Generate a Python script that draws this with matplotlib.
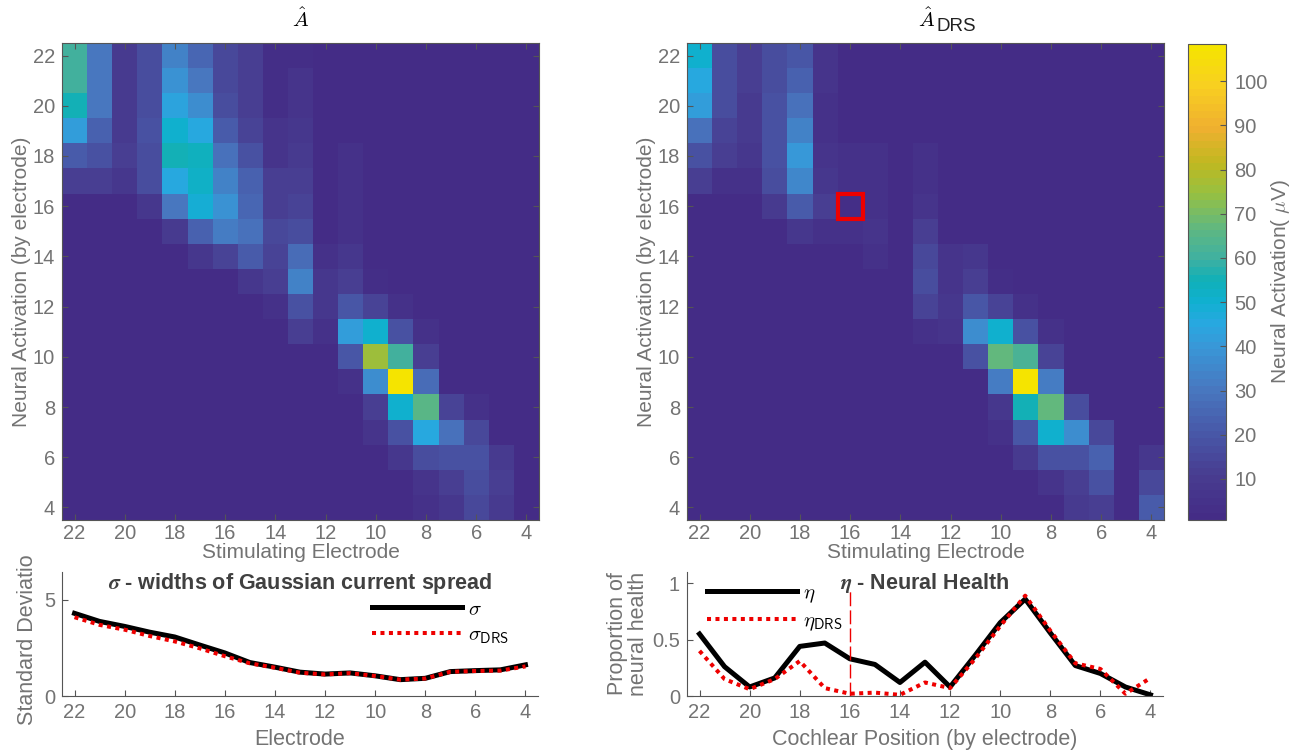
import numpy as np
import matplotlib.pyplot as plt
from matplotlib.colors import LinearSegmentedColormap, Normalize
from matplotlib.patches import Rectangle
from matplotlib.transforms import Bbox, TransformedBbox

plt.rcParams['font.family'] = ['Liberation Sans', 'DejaVu Sans']
plt.rcParams['mathtext.fontset'] = 'cm'

### Data ###
electrodes = [22, 21, 20, 19, 18, 17, 16, 15, 14, 13, 12, 11, 10, 9, 8, 7, 6, 5, 4]

# rows: activation electrode 22 (top) -> 4 (bottom), cols: stimulating electrode 22 -> 4
A_hat = [
    [60, 30, 10, 17, 33, 25, 15, 11, 4, 4, 1, 1, 1, 1, 1, 1, 1, 1, 1],
    [60, 30, 10, 16, 38, 30, 15, 11, 4, 7, 1, 1, 1, 1, 1, 1, 1, 1, 1],
    [55, 30, 10, 16, 43, 37, 16, 12, 4, 7, 1, 1, 1, 1, 1, 1, 1, 1, 1],
    [42, 23, 10, 18, 50, 45, 21, 13, 6, 8, 1, 1, 1, 1, 1, 1, 1, 1, 1],
    [22, 18, 11, 17, 55, 53, 29, 19, 6, 10, 1, 5, 1, 1, 1, 1, 1, 1, 1],
    [12, 12, 8, 16, 45, 52, 34, 23, 11, 12, 1, 5, 1, 1, 1, 1, 1, 1, 1],
    [1, 1, 1, 8, 30, 48, 38, 25, 11, 14, 1, 5, 1, 1, 1, 1, 1, 1, 1],
    [1, 1, 1, 1, 10, 23, 32, 29, 15, 16, 1, 5, 1, 1, 1, 1, 1, 1, 1],
    [1, 1, 1, 1, 1, 8, 13, 21, 14, 26, 5, 8, 1, 1, 1, 1, 1, 1, 1],
    [1, 1, 1, 1, 1, 1, 1, 8, 12, 34, 9, 12, 4, 1, 1, 1, 1, 1, 1],
    [1, 1, 1, 1, 1, 1, 1, 1, 5, 18, 8, 20, 14, 5, 1, 1, 1, 1, 1],
    [1, 1, 1, 1, 1, 1, 1, 1, 1, 12, 5, 42, 51, 18, 5, 1, 1, 1, 1],
    [1, 1, 1, 1, 1, 1, 1, 1, 1, 1, 1, 20, 75, 60, 12, 1, 1, 1, 1],
    [1, 1, 1, 1, 1, 1, 1, 1, 1, 1, 1, 5, 37, 108.4, 27, 1, 1, 1, 1],
    [1, 1, 1, 1, 1, 1, 1, 1, 1, 1, 1, 1, 12, 51, 66, 14, 5, 1, 1],
    [1, 1, 1, 1, 1, 1, 1, 1, 1, 1, 1, 1, 6, 19, 46, 29, 15, 1, 1],
    [1, 1, 1, 1, 1, 1, 1, 1, 1, 1, 1, 1, 1, 8, 17, 18, 18, 10, 1],
    [1, 1, 1, 1, 1, 1, 1, 1, 1, 1, 1, 1, 1, 1, 7, 11, 17, 11, 1],
    [1, 1, 1, 1, 1, 1, 1, 1, 1, 1, 1, 1, 1, 1, 5, 8, 15, 10, 1],
]

A_hat_drs = [
    [50, 17, 11, 16, 20, 6, 1, 1, 1, 1, 1, 1, 1, 1, 1, 1, 1, 1, 1],
    [46, 17, 11, 16, 23, 6, 1, 1, 1, 1, 1, 1, 1, 1, 1, 1, 1, 1, 1],
    [42, 16, 10, 18, 28, 5, 1, 1, 1, 1, 1, 1, 1, 1, 1, 1, 1, 1, 1],
    [28, 14, 10, 18, 34, 5, 1, 1, 1, 1, 1, 1, 1, 1, 1, 1, 1, 1, 1],
    [18, 12, 9, 18, 40, 7, 5, 5, 1, 5, 1, 1, 1, 1, 1, 1, 1, 1, 1],
    [11, 5, 5, 16, 35, 9, 5, 5, 1, 5, 1, 1, 1, 1, 1, 1, 1, 1, 1],
    [1, 1, 1, 10, 22, 11, 3, 5, 1, 7, 1, 1, 1, 1, 1, 1, 1, 1, 1],
    [1, 1, 1, 1, 9, 5, 5, 6, 1, 11, 1, 1, 1, 1, 1, 1, 1, 1, 1],
    [1, 1, 1, 1, 1, 1, 1, 5, 1, 15, 6, 9, 1, 1, 1, 1, 1, 1, 1],
    [1, 1, 1, 1, 1, 1, 1, 1, 1, 17, 7, 12, 4, 1, 1, 1, 1, 1, 1],
    [1, 1, 1, 1, 1, 1, 1, 1, 1, 14, 9, 20, 14, 5, 1, 1, 1, 1, 1],
    [1, 1, 1, 1, 1, 1, 1, 1, 1, 5, 6, 37, 50, 18, 5, 1, 1, 1, 1],
    [1, 1, 1, 1, 1, 1, 1, 1, 1, 1, 1, 19, 68, 62, 14, 1, 1, 1, 1],
    [1, 1, 1, 1, 1, 1, 1, 1, 1, 1, 1, 1, 31, 108.4, 31, 1, 1, 1, 1],
    [1, 1, 1, 1, 1, 1, 1, 1, 1, 1, 1, 1, 8, 55, 68, 17, 1, 1, 1],
    [1, 1, 1, 1, 1, 1, 1, 1, 1, 1, 1, 1, 5, 20, 50, 37, 15, 1, 1],
    [1, 1, 1, 1, 1, 1, 1, 1, 1, 1, 1, 1, 1, 10, 18, 19, 24, 1, 8],
    [1, 1, 1, 1, 1, 1, 1, 1, 1, 1, 1, 1, 1, 1, 7, 11, 18, 1, 15],
    [1, 1, 1, 1, 1, 1, 1, 1, 1, 1, 1, 1, 1, 1, 1, 10, 12, 1, 22],
]

sigma     = [4.30, 3.88, 3.62, 3.32, 3.07, 2.65, 2.24, 1.74, 1.50, 1.24, 1.14, 1.20, 1.05, 0.85, 0.92, 1.27, 1.32, 1.36, 1.62]
sigma_drs = [4.10, 3.70, 3.45, 3.12, 2.84, 2.48, 2.07, 1.70, 1.47, 1.21, 1.12, 1.19, 1.04, 0.85, 0.91, 1.26, 1.30, 1.32, 1.54]

eta     = [0.55, 0.26, 0.08, 0.16, 0.44, 0.47, 0.33, 0.28, 0.12, 0.30, 0.08, 0.36, 0.65, 0.86, 0.56, 0.27, 0.20, 0.08, 0.01]
eta_drs = [0.40, 0.15, 0.06, 0.15, 0.31, 0.07, 0.02, 0.03, 0.01, 0.12, 0.07, 0.33, 0.62, 0.89, 0.58, 0.29, 0.24, 0.02, 0.16]

flagged = 16
clim = (0.7, 108.4)

### Style ###
TXT = '#737373'
EDGE = '#555555'
RED = '#ee0000'
FS_TICK = 14.5
FS_LAB = 15
FS_TITLE = 15.5

parula_pts = [0.7, 10, 20, 30, 40, 45, 50, 55, 60, 67, 75, 82, 90, 100, 108.4]
parula_cols = ['#442c86', '#483c90', '#4858a8', '#4878c0', '#3898d8', '#28a8e0', '#10b0d0',
               '#10b0b8', '#40b0a0', '#60b880', '#98c040', '#c0b820', '#f0b030', '#f8d020', '#f5e400']
cmap = LinearSegmentedColormap.from_list(
    'parula_ish',
    [((v - clim[0]) / (clim[1] - clim[0]), c) for v, c in zip(parula_pts, parula_cols)],
    N=64)
norm = Normalize(*clim)

W, H = 1300, 756
fig = plt.figure(figsize=(W / 100, H / 100), dpi=100)

def px_axes(left, top, width, height):
    return fig.add_axes([left / W, 1 - (top + height) / H, width / W, height / H])

def style_axis(ax, box=True, pad=5):
    for s in ax.spines.values():
        s.set_color(EDGE)
        s.set_linewidth(0.8)
    if not box:
        ax.spines['top'].set_visible(False)
        ax.spines['right'].set_visible(False)
    ax.tick_params(direction='in', length=4, width=0.8, color=EDGE, pad=pad,
                   labelcolor=TXT, labelsize=FS_TICK, top=box, right=box)

### Heatmaps ###
ext = [22.5, 3.5, 3.5, 22.5]
ax1 = px_axes(62, 43, 477, 477)
ax2 = px_axes(687, 43, 477, 477)

for ax, mat in [(ax1, A_hat), (ax2, A_hat_drs)]:
    im = ax.imshow(np.array(mat), cmap=cmap, norm=norm, extent=ext,
                   origin='upper', aspect='auto', interpolation='nearest')
    ax.set_xticks(range(22, 3, -2))
    ax.set_yticks(range(4, 23, 2))
    style_axis(ax, pad=3)
    ax.tick_params(axis='y', pad=5)
    ax.set_xlabel('Stimulating Electrode', fontsize=FS_LAB, color=TXT, labelpad=0)
    ax.set_ylabel('Neural Activation (by electrode)', fontsize=FS_LAB, color=TXT, labelpad=1)

ax1.text(0.5, 1.025, r'$\hat{A}$', transform=ax1.transAxes, ha='center', va='bottom', fontsize=15)
t = ax2.text(0.484, 1.025, r'$\hat{A}$', transform=ax2.transAxes, ha='left', va='bottom', fontsize=15)
ax2.annotate('DRS', xy=(1.0, 0.0), xycoords=t, xytext=(1, -3), textcoords='offset points',
             ha='left', va='bottom', fontsize=13.5, color='#222222')

ax2.add_patch(Rectangle((flagged - 0.5, flagged - 0.5), 1, 1, fill=False,
                        edgecolor=RED, linewidth=3))

cax = px_axes(1188, 44, 38, 476)
cb = fig.colorbar(im, cax=cax)
cb.set_ticks(range(10, 101, 10))
cb.outline.set_edgecolor(EDGE)
cb.outline.set_linewidth(0.8)
cax.tick_params(direction='in', length=4, width=0.8, color=EDGE, labelcolor=TXT,
                labelsize=FS_TICK, pad=6)
cb.set_label(r'Neural Activation( $\mu$V)', fontsize=FS_LAB, color=TXT, labelpad=1)

### Line plots ###
ax3 = px_axes(62, 572, 476, 124)
ax4 = px_axes(687, 572, 476, 124)

dotted = (0, (1, 1.1))

ax3.plot(electrodes, sigma, color='k', lw=3.6, label=r'$\sigma$')
ax3.plot(electrodes, sigma_drs, color=RED, lw=2.9, ls=dotted, label=r'$\sigma_{\mathsf{DRS}}$')
ax3.set_ylim(0, 6.45)
ax3.set_yticks([0, 5])
ax3.set_title(r'$\boldsymbol{\sigma}$ - widths of Gaussian current spread', fontsize=FS_TITLE,
              fontweight='bold', color='#404040', y=0.86, pad=0)
ax3.set_xlabel('Electrode', fontsize=FS_LAB + 0.5, color=TXT, labelpad=5)
ylab = ax3.set_ylabel('Standard Deviation', fontsize=FS_LAB + 0.5, color=TXT, labelpad=4)
ylab.set_clip_box(TransformedBbox(Bbox([[0, 0], [1, 1 - 556 / H]]), fig.transFigure))
ylab.set_clip_on(True)
ax3.legend(loc='upper left', bbox_to_anchor=(0.63, 0.86), frameon=False, fontsize=15,
           handlelength=4.3, handletextpad=0.3, labelspacing=0.3, borderpad=0)

ax4.plot(electrodes, eta, color='k', lw=3.6, label=r'$\eta$')
ax4.plot(electrodes, eta_drs, color=RED, lw=2.9, ls=dotted, label=r'$\eta_{\mathsf{DRS}}$')
ax4.plot([flagged, flagged], [0, 0.96], color=RED, lw=1, ls=(0, (10, 3)))
ax4.set_ylim(0, 1.1)
ax4.set_yticks([0, 0.5, 1])
ax4.set_yticklabels(['0', '0.5', '1'])
ax4.set_title(r'$\boldsymbol{\eta}$ - Neural Health', fontsize=FS_TITLE,
              fontweight='bold', color='#404040', y=0.86, pad=0)
ax4.set_xlabel('Cochlear Position (by electrode)', fontsize=FS_LAB + 0.5, color=TXT, labelpad=5)
ax4.set_ylabel('Proportion of\nneural health', fontsize=FS_LAB + 0.5, color=TXT, labelpad=2,
               linespacing=1.0)
ax4.legend(loc='upper left', bbox_to_anchor=(0.02, 0.99), frameon=False, fontsize=15,
           handlelength=4.3, handletextpad=0.3, labelspacing=0.3, borderpad=0)

for ax in (ax3, ax4):
    ax.set_xlim(22.5, 3.5)
    ax.set_xticks(range(22, 3, -2))
    style_axis(ax, box=False)

fig.savefig('out.png', dpi=100)
